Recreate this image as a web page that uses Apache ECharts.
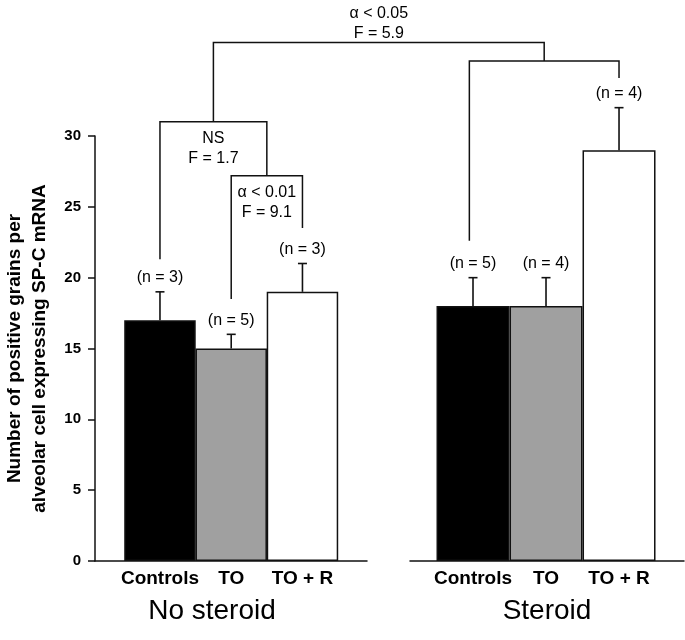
<!DOCTYPE html>
<html>
<head>
<meta charset="utf-8">
<script src="https://cdn.jsdelivr.net/npm/echarts@6/dist/echarts.min.js"></script>
<style>html,body{margin:0;padding:0;background:#fff}#c{width:685px;height:640px}</style>
</head>
<body>
<div id="c"></div>
<script>
// ---- data ----
const categories = ['Controls', 'TO', 'TO + R'];
const groupNames = ['No steroid', 'Steroid'];
const meanNoSteroid = [17, 15, 19];
const upperNoSteroid = [19, 16, 21];
const nNoSteroid = [3, 5, 3];
const meanSteroid = [18, 18, 29];
const upperSteroid = [20, 20, 32];
const nSteroid = [5, 4, 4];
const yTickMin = 0, yTickMax = 30, yTickStep = 5;
const yAxisTitle = 'Number of positive grains per\nalveolar cell expressing SP-C mRNA';
// significance brackets: [leftGrid, leftX, rightGrid, rightX, yTop, yLeftEnd, yRightEnd]
const bracketNS = [0, 1, 0, 2.5, 31, 21.3, 27.2];
const bracketTO = [0, 2, 0, 3, 27.2, 18.5, 23.5];
const bracketSteroid = [1, 0.95, 1, 3, 35.3, 22.6, 34.1];
const bracketTop = [0, 1.75, 1, 1.975, 36.6, 31, 35.3];
const textNS = ['NS', 'F = 1.7'];
const textTO = ['\u03b1 < 0.01', 'F = 9.1'];
const textTop = ['\u03b1 < 0.05', 'F = 5.9'];

const FONT = '"Liberation Sans", Arial, Helvetica, sans-serif';
const barColors = ['#000000', '#a0a0a0', '#ffffff'];
const INK = '#111';

const chart = echarts.init(document.getElementById('c'), null, {renderer: 'canvas'});

function xAxisFor(g, min, max, padRight) {
  return {
    gridIndex: g, type: 'value', min: min, max: max,
    axisLine: {show: true, onZero: false, lineStyle: {color: INK, width: 1.5}},
    axisTick: {show: false},
    splitLine: {show: false},
    axisLabel: {
      customValues: [1, 2, 3],
      formatter: v => categories[Math.round(v) - 1] || '',
      fontFamily: FONT, fontWeight: 'bold', fontSize: 19, color: '#000', margin: 8
    },
    name: groupNames[g], nameLocation: 'middle', nameGap: 36,
    nameTextStyle: {fontFamily: FONT, fontSize: 28, color: '#000', padding: [0, padRight, 0, 0]}
  };
}

function errRender(params, api) {
  const x = api.value(0), m = api.value(1), u = api.value(2), n = api.value(3);
  const p0 = api.coord([x, m]);
  const p1 = api.coord([x, u]);
  return {
    type: 'group',
    children: [
      {type: 'line', shape: {x1: p0[0], y1: p0[1], x2: p1[0], y2: p1[1]}, style: {stroke: INK, lineWidth: 1.6}},
      {type: 'line', shape: {x1: p1[0] - 4.5, y1: p1[1], x2: p1[0] + 4.5, y2: p1[1]}, style: {stroke: INK, lineWidth: 1.6}},
      {type: 'text', x: p1[0], y: p1[1] - 6,
        style: {text: '(n = ' + n + ')', fontFamily: FONT, fontSize: 16, fill: '#000',
          align: 'center', textAlign: 'center', verticalAlign: 'bottom', textVerticalAlign: 'bottom'}}
    ]
  };
}

function barData(means) {
  return means.map((v, i) => ({value: [i + 1, v], itemStyle: {color: barColors[i]}}));
}

chart.setOption({
  backgroundColor: '#ffffff',
  animation: false,
  grid: [
    {left: 95, top: 136, width: 272, height: 425, containLabel: false, outerBoundsMode: 'none'},
    {left: 410, top: 136, width: 274, height: 425, containLabel: false, outerBoundsMode: 'none'}
  ],
  xAxis: [
    xAxisFor(0, 0.088, 3.906, 38),
    xAxisFor(1, 0.137, 3.89, 0)
  ],
  yAxis: [
    {
      gridIndex: 0, type: 'value', min: yTickMin, max: yTickMax, interval: yTickStep,
      axisLine: {show: true, lineStyle: {color: INK, width: 1.5}},
      axisTick: {show: true, length: 7, lineStyle: {color: INK, width: 1.5}},
      splitLine: {show: false},
      axisLabel: {fontFamily: FONT, fontWeight: 'bold', fontSize: 15, color: '#000', margin: 14},
      name: yAxisTitle, nameLocation: 'middle', nameGap: 43,
      nameTextStyle: {fontFamily: FONT, fontWeight: 'bold', fontSize: 19, lineHeight: 25, color: '#000'}
    },
    {gridIndex: 1, type: 'value', min: yTickMin, max: yTickMax, interval: yTickStep, show: false}
  ],
  series: [
    {type: 'bar', xAxisIndex: 0, yAxisIndex: 0, barWidth: 71.5, data: barData(meanNoSteroid),
      itemStyle: {borderColor: INK, borderWidth: 1.5}},
    {type: 'bar', xAxisIndex: 1, yAxisIndex: 1, barWidth: 73, data: barData(meanSteroid),
      itemStyle: {borderColor: INK, borderWidth: 1.5}},
    {type: 'custom', xAxisIndex: 0, yAxisIndex: 0, renderItem: errRender, z: 5,
      data: meanNoSteroid.map((v, i) => [i + 1, v, upperNoSteroid[i], nNoSteroid[i]])},
    {type: 'custom', xAxisIndex: 1, yAxisIndex: 1, renderItem: errRender, z: 5,
      data: meanSteroid.map((v, i) => [i + 1, v, upperSteroid[i], nSteroid[i]])}
  ]
});

function px(g, x, y) { return chart.convertToPixel({gridIndex: g}, [x, y]); }

function bracket(b, lines, below) {
  const [gl, xl, gr, xr, yt, yle, yre] = b;
  const a = px(gl, xl, yle), bTop = px(gl, xl, yt), c = px(gr, xr, yt), d = px(gr, xr, yre);
  const els = [{
    type: 'polyline', z: 10,
    shape: {points: [a, bTop, c, d]},
    style: {stroke: INK, lineWidth: 1.5, fill: null}
  }];
  if (lines) {
    const cx = (bTop[0] + c[0]) / 2;
    els.push({
      type: 'text', z: 10, x: cx, y: below ? bTop[1] + 7 : bTop[1] + 1,
      style: {text: lines.join('\n'), fontFamily: FONT, fontSize: 16, lineHeight: 20, fill: '#000',
        align: 'center', textAlign: 'center',
        verticalAlign: below ? 'top' : 'bottom', textVerticalAlign: below ? 'top' : 'bottom'}
    });
  }
  return els;
}

const graphics = [].concat(
  bracket(bracketNS, textNS, true),
  bracket(bracketTO, textTO, true),
  bracket(bracketSteroid, null, true),
  bracket(bracketTop, textTop, false)
);
chart.setOption({graphic: graphics});
</script>
</body>
</html>
